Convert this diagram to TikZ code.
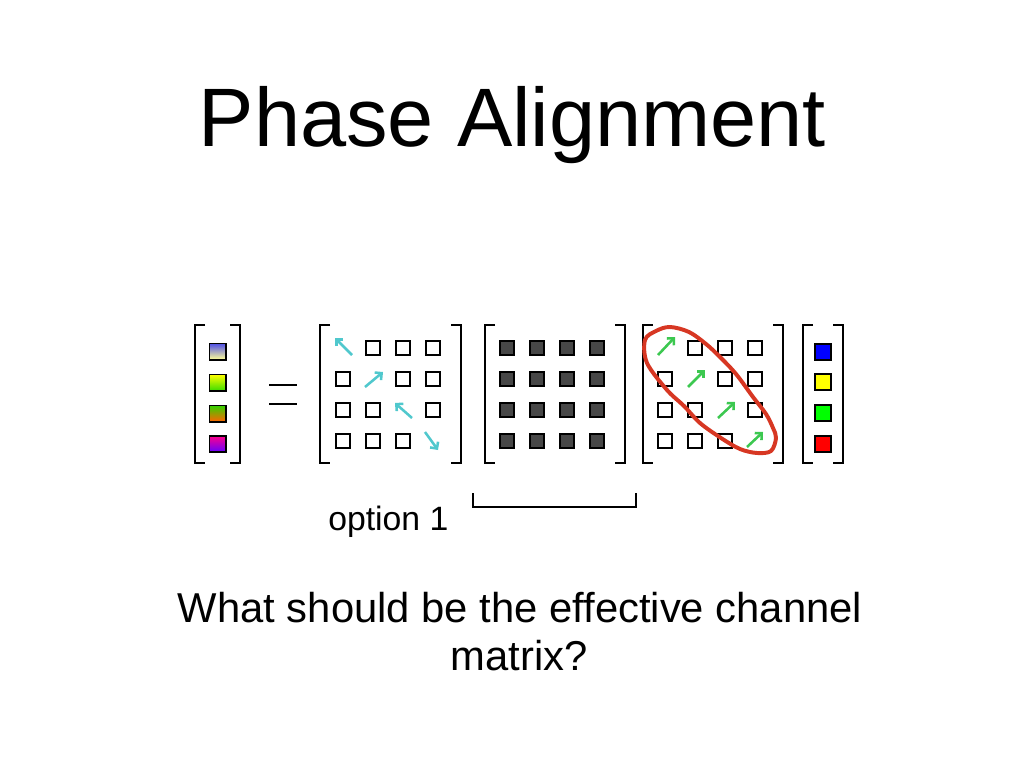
\documentclass[tikz,border=0pt]{standalone}
\usepackage{fontspec}
\setmainfont{Liberation Sans}
\usetikzlibrary{arrows.meta}

\definecolor{cellgray}{RGB}{71,71,71}
\definecolor{phasecyan}{RGB}{80,200,205}
\definecolor{phasegreen}{RGB}{60,200,80}
\definecolor{loopred}{RGB}{215,55,35}

\tikzset{
    cell/.style={draw, line width=1.4pt, minimum size=10pt, inner sep=0pt, fill=white},
    darkcell/.style={cell, fill=cellgray},
    vcell/.style={cell, minimum size=11.4pt},
    bracket/.style={line width=2.1pt},
    cyanarrow/.style={draw=phasecyan, line width=1.8pt, -{Straight Barb[length=3.5pt,width=7pt]}},
    greenarrow/.style={draw=phasegreen, line width=1.8pt, -{Straight Barb[length=3.5pt,width=7pt]}},
    loopline/.style={draw=loopred, line width=2.8pt, line join=round}
}

\begin{document}
\begin{tikzpicture}[x=0.025cm, y=-0.025cm]
        \fill [white] (0,0) rectangle (1024,768);
        \useasboundingbox (0,0) rectangle (1024,768);

        \node [anchor=base] (title) at (512.5,147) {\fontsize{59}{70}\selectfont Phase Alignment};

        % received vector
        \node [vcell, top color={rgb,255:red,80;green,80;blue,230}, bottom color={rgb,255:red,255;green,255;blue,150}] (r1) at (217.5,351.5) {};
        \node [vcell, top color={rgb,255:red,255;green,255;blue,0}, bottom color={rgb,255:red,60;green,220;blue,0}] (r2) at (217.5,382.5) {};
        \node [vcell, top color={rgb,255:red,50;green,210;blue,0}, bottom color={rgb,255:red,255;green,100;blue,0}] (r3) at (217.5,413.5) {};
        \node [vcell, top color={rgb,255:red,255;green,0;blue,140}, bottom color={rgb,255:red,100;green,0;blue,255}] (r4) at (217.5,444) {};
        \draw [bracket] (205,325) -- (195,325) -- (195,463) -- (205,463);
        \draw [bracket] (230,325) -- (240,325) -- (240,463) -- (230,463);

        \draw [bracket] (269,385) -- (297,385);
        \draw [bracket] (269,404) -- (297,404);

        % phase matrix
        \node [cell] (p12) at (373,348) {};
        \node [cell] (p13) at (403,348) {};
        \node [cell] (p14) at (433,348) {};
        \node [cell] (p21) at (343,379) {};
        \node [cell] (p23) at (403,379) {};
        \node [cell] (p24) at (433,379) {};
        \node [cell] (p31) at (343,410) {};
        \node [cell] (p32) at (373,410) {};
        \node [cell] (p34) at (433,410) {};
        \node [cell] (p41) at (343,441) {};
        \node [cell] (p42) at (373,441) {};
        \node [cell] (p43) at (403,441) {};
        \draw [cyanarrow] (352,355) -- (335,338);
        \draw [cyanarrow] (365,387) -- (383,372);
        \draw [cyanarrow] (412,418) -- (395,403);
        \draw [cyanarrow] (425,432) -- (438,450);
        \draw [bracket] (330,325) -- (320,325) -- (320,463) -- (330,463);
        \draw [bracket] (451,325) -- (461,325) -- (461,463) -- (451,463);

        % channel matrix
        \node [darkcell] (h11) at (507,348) {};
        \node [darkcell] (h12) at (537,348) {};
        \node [darkcell] (h13) at (567,348) {};
        \node [darkcell] (h14) at (597,348) {};
        \node [darkcell] (h21) at (507,379) {};
        \node [darkcell] (h22) at (537,379) {};
        \node [darkcell] (h23) at (567,379) {};
        \node [darkcell] (h24) at (597,379) {};
        \node [darkcell] (h31) at (507,410) {};
        \node [darkcell] (h32) at (537,410) {};
        \node [darkcell] (h33) at (567,410) {};
        \node [darkcell] (h34) at (597,410) {};
        \node [darkcell] (h41) at (507,441) {};
        \node [darkcell] (h42) at (537,441) {};
        \node [darkcell] (h43) at (567,441) {};
        \node [darkcell] (h44) at (597,441) {};
        \draw [bracket] (495,325) -- (485,325) -- (485,463) -- (495,463);
        \draw [bracket] (615,325) -- (625,325) -- (625,463) -- (615,463);

        % alignment matrix
        \node [cell] (w12) at (695,348) {};
        \node [cell] (w13) at (725,348) {};
        \node [cell] (w14) at (755,348) {};
        \node [cell] (w21) at (665,379) {};
        \node [cell] (w23) at (725,379) {};
        \node [cell] (w24) at (755,379) {};
        \node [cell] (w31) at (665,410) {};
        \node [cell] (w32) at (695,410) {};
        \node [cell] (w34) at (755,410) {};
        \node [cell] (w41) at (665,441) {};
        \node [cell] (w42) at (695,441) {};
        \node [cell] (w43) at (725,441) {};
        \draw [greenarrow] (658,355) -- (675,337);
        \draw [greenarrow] (688,387) -- (705,370);
        \draw [greenarrow] (718,418) -- (735,402);
        \draw [greenarrow] (747,447) -- (763,432);
        \draw [bracket] (653,325) -- (643,325) -- (643,463) -- (653,463);
        \draw [bracket] (773,325) -- (783,325) -- (783,463) -- (773,463);
        \draw [loopline] plot [smooth cycle, tension=0.55] coordinates {(645,340) (647,363) (667,390) (684,406) (700,423) (721,438) (740,449) (757,453) (771,451) (776,438) (773,428) (766,414) (753,397) (736,374) (720,357) (706,344) (689,332) (670,327) (656,331)};

        % symbol vector
        \node [vcell, fill={rgb,255:red,0;green,0;blue,255}] (x1) at (823,352) {};
        \node [vcell, fill={rgb,255:red,255;green,255;blue,0}] (x2) at (823,382) {};
        \node [vcell, fill={rgb,255:red,0;green,255;blue,0}] (x3) at (823,413) {};
        \node [vcell, fill={rgb,255:red,255;green,0;blue,0}] (x4) at (823,444) {};
        \draw [bracket] (813,325) -- (803,325) -- (803,463) -- (813,463);
        \draw [bracket] (833,325) -- (843,325) -- (843,463) -- (833,463);

        \node [anchor=base west, inner sep=0pt] (opt) at (328,530) {\fontsize{24}{29}\selectfont option 1};
        \draw [line width=2pt] (473,493) -- (473,507) -- (636,507) -- (636,493);

        \node [anchor=base] (q1) at (520,622) {\fontsize{29.7}{35}\selectfont What should be the effective channel};
        \node [anchor=base] (q2) at (519,670) {\fontsize{29.7}{35}\selectfont matrix?};
    \end{tikzpicture}
\end{document}
